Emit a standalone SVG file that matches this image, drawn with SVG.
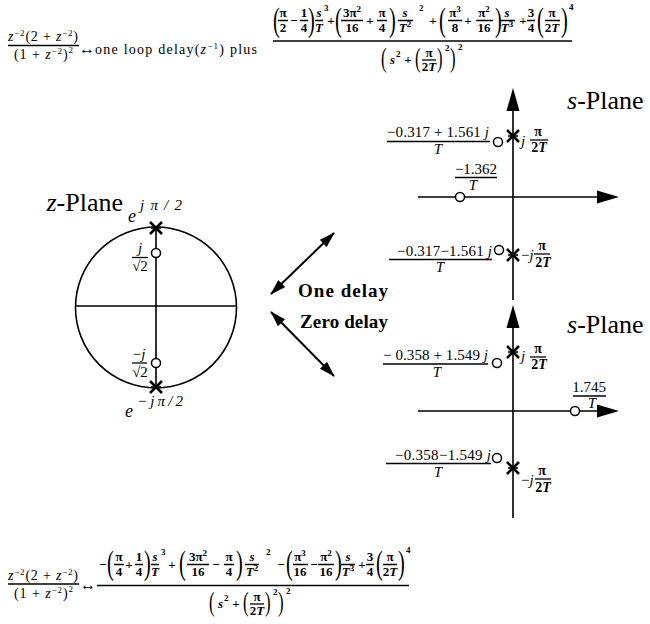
<svg xmlns="http://www.w3.org/2000/svg" width="650" height="624" viewBox="0 0 650 624">
<style>
text{font-family:"Liberation Serif","Times New Roman",serif;fill:#000}
.i{font-style:italic}
.f{font-size:13px;font-weight:bold}
.r{font-size:14px}
.c{text-anchor:middle}
.sup{font-size:9px}
.pa{font-size:34px}
.pd{font-size:28px}
.ln{stroke:#000;stroke-width:1.3;fill:none}
.ax{stroke:#000;stroke-width:1.6;fill:none}
.zr{fill:#fff;stroke:#000;stroke-width:1.5}
.lab{font-size:15px}
.pb{font-size:14px;font-weight:bold}
.pl{font-size:26px}
.dl{font-size:19px;font-weight:bold}
.ar{stroke:#000;stroke-width:2;fill:none}
</style>
<defs>
<marker id="ah" viewBox="0 0 16 10" refX="15" refY="5" markerWidth="16" markerHeight="10" markerUnits="userSpaceOnUse" orient="auto-start-reverse"><path d="M0 0L16 5L0 10Z"/></marker>
<g id="px"><path d="M-6 -6L6 6M-6 6L6 -6" stroke="#000" stroke-width="2.6"/><path d="M-5 0H5" stroke="#000" stroke-width="1.6"/></g>
</defs>

<g id="top-formula">
<text class="r" x="8" y="41" textLength="70" lengthAdjust="spacing"><tspan class="i">z</tspan><tspan class="sup" dy="-5">−2</tspan><tspan dy="5">(2 + </tspan><tspan class="i">z</tspan><tspan class="sup" dy="-5">−2</tspan><tspan dy="5">)</tspan></text>
<path class="ln" d="M8 45.5H79"/>
<text class="r" x="14" y="59" textLength="59" lengthAdjust="spacing">(1 + <tspan class="i">z</tspan><tspan class="sup" dy="-5">−2</tspan><tspan dy="5">)</tspan><tspan class="sup" dy="-6">2</tspan></text>
<text x="79" y="54" font-size="16">↔</text>
<text class="r" x="95" y="54" textLength="162" lengthAdjust="spacing">one loop delay(<tspan class="i">z</tspan><tspan class="sup" dy="-5">−1</tspan><tspan dy="5">) plus</tspan></text>
<!-- numerator -->
<text class="pa" transform="translate(273 31) scale(0.6 1)">(</text>
<text class="f c" x="283" y="17">π</text><text class="f c" x="283" y="32">2</text>
<text class="f c" x="294" y="25">−</text>
<text class="f c" x="304" y="17">1</text><text class="f c" x="304" y="32">4</text>
<text class="pa" transform="translate(308 31) scale(0.6 1)">)</text>
<text class="f c i" x="319" y="17">s</text><text class="f c i" x="319" y="32">T</text><text class="f sup" x="324" y="11">3</text>
<text class="f c" x="331" y="25">+</text>
<text class="pa" transform="translate(335 31) scale(0.6 1)">(</text>
<text class="f c" x="352" y="17">3π<tspan class="sup" dy="-5">2</tspan></text><text class="f c" x="352" y="32">16</text>
<text class="f c" x="370" y="25">+</text>
<text class="f c" x="382" y="17">π</text><text class="f c" x="382" y="32">4</text>
<text class="pa" transform="translate(389 31) scale(0.6 1)">)</text>
<text class="f c i" x="405" y="17">s</text><text class="f c" x="405" y="32"><tspan class="i">T</tspan><tspan class="sup" dy="-5">2</tspan></text><text class="f sup" x="419" y="11">2</text>
<text class="f c" x="433" y="25">+</text>
<text class="pa" transform="translate(439 31) scale(0.6 1)">(</text>
<text class="f c" x="455" y="17">π<tspan class="sup" dy="-5">3</tspan></text><text class="f c" x="455" y="32">8</text>
<text class="f c" x="468" y="25">+</text>
<text class="f c" x="484" y="17">π<tspan class="sup" dy="-5">2</tspan></text><text class="f c" x="484" y="32">16</text>
<text class="pa" transform="translate(495 31) scale(0.6 1)">)</text>
<text class="f c i" x="507" y="17">s</text><text class="f c" x="507" y="32"><tspan class="i">T</tspan><tspan class="sup" dy="-5">3</tspan></text>
<text class="f c" x="523" y="25">+</text>
<text class="f c" x="531" y="17">3</text><text class="f c" x="531" y="32">4</text>
<text class="pa" transform="translate(537 31) scale(0.6 1)">(</text>
<text class="f c" x="552" y="17">π</text><text class="f c" x="552" y="32">2<tspan class="i">T</tspan></text>
<text class="pa" transform="translate(561 31) scale(0.6 1)">)</text>
<text class="f sup" x="569" y="10">4</text>
<path class="ln" d="M278 20.5H288M300 20.5H308M315 20.5H323M341 20.5H363M377 20.5H387M398 20.5H413M448 20.5H462M476 20.5H493M500 20.5H515M527 20.5H535M545 20.5H560"/>
<path class="ln" d="M273 41H572" stroke-width="1.5"/>
<!-- denominator -->
<text class="pd" transform="translate(381 67) scale(0.6 1)">(</text>
<text class="f i" x="390" y="64">s</text><text class="f sup" x="396" y="57">2</text>
<text class="f c" x="408" y="64">+</text>
<text class="pd" transform="translate(415 67) scale(0.6 1)">(</text>
<text class="f c" x="429" y="57">π</text><text class="f c" x="429" y="71">2<tspan class="i">T</tspan></text>
<path class="ln" d="M422 60H436"/>
<text class="pd" transform="translate(437 67) scale(0.6 1)">)</text>
<text class="f sup" x="445" y="51">2</text>
<text class="pd" transform="translate(450 67) scale(0.6 1)">)</text>
<text class="f sup" x="458" y="50">2</text>
</g>

<g id="bottom-formula">
<text class="r" x="8" y="580" textLength="70" lengthAdjust="spacing"><tspan class="i">z</tspan><tspan class="sup" dy="-5">−2</tspan><tspan dy="5">(2 + </tspan><tspan class="i">z</tspan><tspan class="sup" dy="-5">−2</tspan><tspan dy="5">)</tspan></text>
<path class="ln" d="M8 584H79"/>
<text class="r" x="14" y="598" textLength="59" lengthAdjust="spacing">(1 + <tspan class="i">z</tspan><tspan class="sup" dy="-5">−2</tspan><tspan dy="5">)</tspan><tspan class="sup" dy="-6">2</tspan></text>
<text x="80" y="590" font-size="16">↔</text>
<text class="f c" x="103" y="569">−</text>
<text class="pa" transform="translate(107 574) scale(0.6 1)">(</text>
<text class="f c" x="119" y="561">π</text><text class="f c" x="119" y="576">4</text>
<text class="f c" x="129" y="569">+</text>
<text class="f c" x="139" y="561">1</text><text class="f c" x="139" y="576">4</text>
<text class="pa" transform="translate(144 574) scale(0.6 1)">)</text>
<text class="f c i" x="155" y="561">s</text><text class="f c i" x="155" y="576">T</text><text class="f sup" x="161" y="555">3</text>
<text class="f c" x="172" y="569">+</text>
<text class="pa" transform="translate(179 574) scale(0.6 1)">(</text>
<text class="f c" x="198" y="561">3π<tspan class="sup" dy="-5">2</tspan></text><text class="f c" x="198" y="576">16</text>
<text class="f c" x="216" y="569">−</text>
<text class="f c" x="229" y="561">π</text><text class="f c" x="229" y="576">4</text>
<text class="pa" transform="translate(236 574) scale(0.6 1)">)</text>
<text class="f c i" x="252" y="561">s</text><text class="f c" x="252" y="576"><tspan class="i">T</tspan><tspan class="sup" dy="-5">2</tspan></text><text class="f sup" x="266" y="555">2</text>
<text class="f c" x="281" y="569">−</text>
<text class="pa" transform="translate(286 574) scale(0.6 1)">(</text>
<text class="f c" x="300" y="561">π<tspan class="sup" dy="-5">3</tspan></text><text class="f c" x="300" y="576">16</text>
<text class="f c" x="314" y="569">−</text>
<text class="f c" x="326" y="561">π<tspan class="sup" dy="-5">2</tspan></text><text class="f c" x="326" y="576">16</text>
<text class="pa" transform="translate(335 574) scale(0.6 1)">)</text>
<text class="f c i" x="348" y="561">s</text><text class="f c" x="348" y="576"><tspan class="i">T</tspan><tspan class="sup" dy="-5">3</tspan></text>
<text class="f c" x="362" y="569">+</text>
<text class="f c" x="370" y="561">3</text><text class="f c" x="370" y="576">4</text>
<text class="pa" transform="translate(376 574) scale(0.6 1)">(</text>
<text class="f c" x="390" y="561">π</text><text class="f c" x="390" y="576">2<tspan class="i">T</tspan></text>
<text class="pa" transform="translate(398 574) scale(0.6 1)">)</text>
<text class="f sup" x="406" y="553">4</text>
<path class="ln" d="M114 564.5H124M135 564.5H143M151 564.5H159M187 564.5H209M224 564.5H234M245 564.5H259M293 564.5H308M318 564.5H334M341 564.5H355M366 564.5H374M383 564.5H397"/>
<path class="ln" d="M97 585.5H409" stroke-width="1.5"/>
<text class="pd" transform="translate(209 611) scale(0.6 1)">(</text>
<text class="f i" x="218" y="608">s</text><text class="f sup" x="224" y="601">2</text>
<text class="f c" x="236" y="608">+</text>
<text class="pd" transform="translate(243 611) scale(0.6 1)">(</text>
<text class="f c" x="257" y="601">π</text><text class="f c" x="257" y="615">2<tspan class="i">T</tspan></text>
<path class="ln" d="M250 604H264"/>
<text class="pd" transform="translate(265 611) scale(0.6 1)">)</text>
<text class="f sup" x="273" y="595">2</text>
<text class="pd" transform="translate(278 611) scale(0.6 1)">)</text>
<text class="f sup" x="286" y="594">2</text>
</g>

<g id="z-plane">
<circle class="ax" cx="156" cy="307.5" r="80.5"/>
<path class="ax" d="M76 306H237M156 228V387"/>
<use href="#px" x="156" y="228"/>
<use href="#px" x="156" y="387"/>
<circle class="zr" cx="156" cy="253" r="4.5"/>
<circle class="zr" cx="156" cy="363" r="4.5"/>
<text class="pl" x="123" y="211" text-anchor="end"><tspan class="i">z</tspan>-Plane</text>
<text x="128" y="222" font-size="18" class="i">e</text>
<text x="140" y="210" font-size="15" class="i" textLength="42" lengthAdjust="spacing">jπ/2</text>
<text class="lab i c" x="140" y="253">j</text>
<path class="ln" d="M132 257.5H148"/>
<text class="lab c" x="140" y="271">√2</text>
<text class="lab c" x="139" y="359">−<tspan class="i">j</tspan></text>
<path class="ln" d="M132 363H147"/>
<text class="lab c" x="140" y="377">√2</text>
<text x="125" y="417" font-size="18" class="i">e</text>
<text x="137" y="406" font-size="15" class="i" textLength="46" lengthAdjust="spacing">−jπ/2</text>
</g>

<g id="s-plane-one-delay">
<path class="ax" d="M513 300V108M418 197H600"/>
<path d="M513 88L519.5 111L506.5 111Z"/>
<path d="M619 197L597 190.5L597 203.5Z"/>
<use href="#px" x="513" y="136"/>
<use href="#px" x="513" y="255"/>
<circle class="zr" cx="498" cy="142" r="4.5"/>
<circle class="zr" cx="499" cy="250" r="4.5"/>
<circle class="zr" cx="460" cy="197" r="4.5"/>
<text class="pl" x="567" y="109"><tspan class="i">s</tspan>-Plane</text>
<text class="lab" x="387" y="137" textLength="102" lengthAdjust="spacing">−0.317 + 1.561 <tspan class="i">j</tspan></text>
<path class="ln" d="M387 141.5H490"/>
<text class="lab i c" x="438" y="154">T</text>
<text class="lab i" x="521" y="146">j</text>
<text class="pb c" x="538" y="136">π</text>
<path class="ln" d="M530 140H548"/>
<text class="pb c" x="539" y="152">2<tspan class="i">T</tspan></text>
<text class="lab c" x="476" y="174">−1.362</text>
<path class="ln" d="M455 177.5H497"/>
<text class="lab i c" x="473" y="190">T</text>
<text class="lab" x="397" y="256" textLength="95" lengthAdjust="spacing">−0.317−1.561 <tspan class="i">j</tspan></text>
<path class="ln" d="M389 259.5H492"/>
<text class="lab i c" x="440" y="272">T</text>
<text class="lab" x="521" y="260">−<tspan class="i">j</tspan></text>
<text class="pb c" x="542" y="250">π</text>
<path class="ln" d="M534 254H550"/>
<text class="pb c" x="543" y="267">2<tspan class="i">T</tspan></text>
</g>

<g id="s-plane-zero-delay">
<path class="ax" d="M513 518V325M418 411H600"/>
<path d="M513 305L519.5 328L506.5 328Z"/>
<path d="M619 411L597 404.5L597 417.5Z"/>
<use href="#px" x="513" y="352"/>
<use href="#px" x="513" y="468"/>
<circle class="zr" cx="497" cy="363" r="4.5"/>
<circle class="zr" cx="497" cy="458" r="4.5"/>
<circle class="zr" cx="575" cy="411" r="4.5"/>
<text class="pl" x="567" y="333"><tspan class="i">s</tspan>-Plane</text>
<text class="lab" x="383" y="360" textLength="105" lengthAdjust="spacing">− 0.358 + 1.549 <tspan class="i">j</tspan></text>
<path class="ln" d="M383 364H488"/>
<text class="lab i c" x="437" y="377">T</text>
<text class="lab i" x="521" y="361">j</text>
<text class="pb c" x="538" y="353">π</text>
<path class="ln" d="M530 357H546"/>
<text class="pb c" x="539" y="369">2<tspan class="i">T</tspan></text>
<text class="lab c" x="589" y="392">1.745</text>
<path class="ln" d="M573 396H606"/>
<text class="lab i c" x="592" y="408">T</text>
<text class="lab" x="395" y="460" textLength="96" lengthAdjust="spacing">−0.358−1.549 <tspan class="i">j</tspan></text>
<path class="ln" d="M386 463.5H491"/>
<text class="lab i c" x="438" y="477">T</text>
<text class="lab" x="521" y="485">−<tspan class="i">j</tspan></text>
<text class="pb c" x="542" y="475">π</text>
<path class="ln" d="M535 479H551"/>
<text class="pb c" x="543" y="492">2<tspan class="i">T</tspan></text>
</g>

<g id="label-one-delay"><text class="dl" x="298" y="297" textLength="90" lengthAdjust="spacing">One delay</text></g>
<g id="label-zero-delay"><text class="dl" x="300" y="328" textLength="88" lengthAdjust="spacing">Zero delay</text></g>

<g id="connectors">
<path class="ar" d="M271 294L334 233" marker-start="url(#ah)" marker-end="url(#ah)"/>
<path class="ar" d="M271 312L334 376" marker-start="url(#ah)" marker-end="url(#ah)"/>
</g>
</svg>
